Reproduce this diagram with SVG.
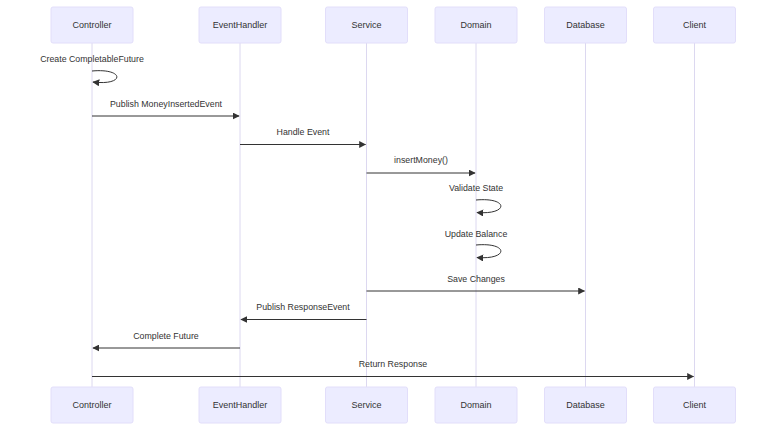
<svg xmlns="http://www.w3.org/2000/svg" width="766" height="436" viewBox="0 0 766 436">
<style>
.actor{fill:#ECECFF;stroke:#e2defa;stroke-width:1}
.atext{font-family:"Liberation Sans",Arial,sans-serif;font-size:9px;fill:#333;text-anchor:middle;dominant-baseline:central}
.life{stroke:#dcd8f0;stroke-width:1}
.msg{stroke:#333;stroke-width:1;fill:none}
.mtext{font-family:"Liberation Sans",Arial,sans-serif;font-size:8.8px;fill:#333;text-anchor:middle}
</style>
<defs>
<marker id="arrow" viewBox="0 0 10 10" refX="9" refY="5" markerWidth="7" markerHeight="7" markerUnits="userSpaceOnUse" orient="auto">
<path d="M0,0 L10,5 L0,10 z" fill="#333"/>
</marker>
</defs>
<rect width="766" height="436" fill="#fff"/>
<g id="lifelines">
<line class="life" x1="92" y1="43" x2="92" y2="387"/>
<line class="life" x1="240" y1="43" x2="240" y2="387"/>
<line class="life" x1="366.5" y1="43" x2="366.5" y2="387"/>
<line class="life" x1="476" y1="43" x2="476" y2="387"/>
<line class="life" x1="585.5" y1="43" x2="585.5" y2="387"/>
<line class="life" x1="694.5" y1="43" x2="694.5" y2="387"/>
</g>
<g id="controller">
<rect class="actor" x="51" y="7" width="82" height="36" rx="2"/><text class="atext" x="92" y="25">Controller</text>
<rect class="actor" x="51" y="387" width="82" height="36" rx="2"/><text class="atext" x="92" y="405">Controller</text>
</g>
<g id="eventhandler">
<rect class="actor" x="199" y="7" width="82" height="36" rx="2"/><text class="atext" x="240" y="25">EventHandler</text>
<rect class="actor" x="199" y="387" width="82" height="36" rx="2"/><text class="atext" x="240" y="405">EventHandler</text>
</g>
<g id="service">
<rect class="actor" x="325.5" y="7" width="82" height="36" rx="2"/><text class="atext" x="366.5" y="25">Service</text>
<rect class="actor" x="325.5" y="387" width="82" height="36" rx="2"/><text class="atext" x="366.5" y="405">Service</text>
</g>
<g id="domain">
<rect class="actor" x="435" y="7" width="82" height="36" rx="2"/><text class="atext" x="476" y="25">Domain</text>
<rect class="actor" x="435" y="387" width="82" height="36" rx="2"/><text class="atext" x="476" y="405">Domain</text>
</g>
<g id="database">
<rect class="actor" x="544.5" y="7" width="82" height="36" rx="2"/><text class="atext" x="585.5" y="25">Database</text>
<rect class="actor" x="544.5" y="387" width="82" height="36" rx="2"/><text class="atext" x="585.5" y="405">Database</text>
</g>
<g id="client">
<rect class="actor" x="653.5" y="7" width="82" height="36" rx="2"/><text class="atext" x="694.5" y="25">Client</text>
<rect class="actor" x="653.5" y="387" width="82" height="36" rx="2"/><text class="atext" x="694.5" y="405">Client</text>
</g>
<g id="connectors">
<text class="mtext" x="92" y="62">Create CompletableFuture</text>
<path class="msg" d="M92,71 C125,68 125,86 93,82" marker-end="url(#arrow)"/>
<text class="mtext" x="166" y="107">Publish MoneyInsertedEvent</text>
<line class="msg" x1="92" y1="116" x2="239" y2="116" marker-end="url(#arrow)"/>
<text class="mtext" x="303" y="135">Handle Event</text>
<line class="msg" x1="240" y1="144.5" x2="365.5" y2="144.5" marker-end="url(#arrow)"/>
<text class="mtext" x="421" y="163">insertMoney()</text>
<line class="msg" x1="366.5" y1="173" x2="475" y2="173" marker-end="url(#arrow)"/>
<text class="mtext" x="476" y="191">Validate State</text>
<path class="msg" d="M476,200 C509,197 509,215 477,212.5" marker-end="url(#arrow)"/>
<text class="mtext" x="476" y="237">Update Balance</text>
<path class="msg" d="M476,245 C509,242 509,260 477,257.5" marker-end="url(#arrow)"/>
<text class="mtext" x="476" y="282">Save Changes</text>
<line class="msg" x1="366.5" y1="291" x2="584.5" y2="291" marker-end="url(#arrow)"/>
<text class="mtext" x="303" y="310">Publish ResponseEvent</text>
<line class="msg" x1="366.5" y1="319.5" x2="241" y2="319.5" marker-end="url(#arrow)"/>
<text class="mtext" x="166" y="339">Complete Future</text>
<line class="msg" x1="240" y1="348" x2="93" y2="348" marker-end="url(#arrow)"/>
<text class="mtext" x="393" y="367">Return Response</text>
<line class="msg" x1="92" y1="376.5" x2="693.5" y2="376.5" marker-end="url(#arrow)"/>
</g>
</svg>
